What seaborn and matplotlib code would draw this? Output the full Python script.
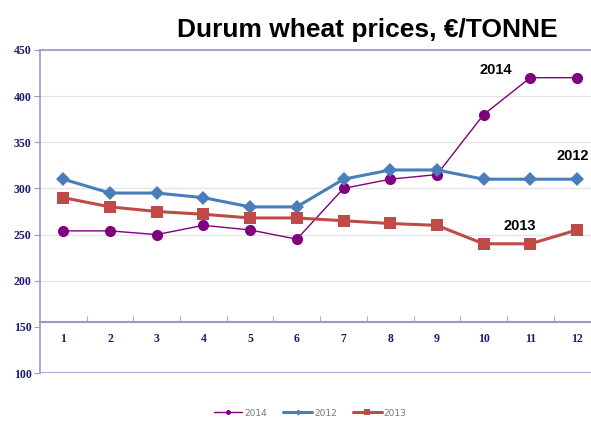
import pandas as pd
import seaborn as sns
import matplotlib.pyplot as plt

# Data
MONTHS = list(range(1, 13))
PRICES_2014 = [254, 254, 250, 260, 255, 245, 300, 310, 315, 380, 420, 420]
PRICES_2012 = [310, 295, 295, 290, 280, 280, 310, 320, 320, 310, 310, 310]
PRICES_2013 = [290, 280, 275, 272, 268, 268, 265, 262, 260, 240, 240, 255]
SERIES = ["2014", "2012", "2013"]

COLORS = {"2014": "#800080", "2012": "#4a7ebb", "2013": "#be4b48"}
MARKERS = {"2014": "o", "2012": "D", "2013": "s"}
SIZES = {"2014": 8, "2012": 7, "2013": 9}
WIDTHS = {"2014": 1.0, "2012": 2.2, "2013": 2.2}
AXIS_COLOR = "#9999cc"
TICK_COLOR = "#1c1c6b"

df = pd.DataFrame({
    "Month": MONTHS * 3,
    "Price": PRICES_2014 + PRICES_2012 + PRICES_2013,
    "Year": sum([[s] * 12 for s in SERIES], []),
})

sns.set_style("white")
fig = plt.figure(figsize=(5.91, 4.21), dpi=100)
ax = fig.add_axes([40 / 591, 48 / 421, 1 - 40 / 591, (373 - 50) / 421])

for year in SERIES:
    sub = df[df["Year"] == year]
    sns.lineplot(
        data=sub, x="Month", y="Price", ax=ax,
        color=COLORS[year], marker=MARKERS[year], markersize=SIZES[year],
        markeredgewidth=0, linewidth=WIDTHS[year], label=year,
    )

ax.set_ylim(100, 450)
ax.set_xlim(0.5, 12.3)
ax.set_yticks(range(100, 451, 50))
ax.set_xticks(MONTHS)
ax.set_xticks([m + 0.5 for m in MONTHS[:-1]], minor=True)
ax.set_xlabel("")
ax.set_ylabel("")

# grid + axis styling
for y in range(200, 451, 50):
    ax.axhline(y, color="#e4e4e4", linewidth=0.9, zorder=0)
ax.axhline(100, color=AXIS_COLOR, linewidth=1.2, zorder=1)
ax.spines["right"].set_visible(False)
ax.spines["top"].set_color(AXIS_COLOR)
ax.spines["top"].set_linewidth(1.2)
ax.spines["left"].set_color(AXIS_COLOR)
ax.spines["left"].set_linewidth(1.2)
ax.spines["bottom"].set_position(("data", 155))
ax.spines["bottom"].set_color(AXIS_COLOR)
ax.spines["bottom"].set_linewidth(1.5)

ax.tick_params(axis="y", length=4, color=AXIS_COLOR, left=True, labelsize=8.5,
               labelcolor=TICK_COLOR, pad=2)
ax.tick_params(axis="x", which="major", length=0, labelsize=8.5,
               labelcolor=TICK_COLOR, pad=8)
ax.tick_params(axis="x", which="minor", length=4, direction="in",
               color=AXIS_COLOR, bottom=True)
for lab in ax.get_xticklabels() + ax.get_yticklabels():
    lab.set_fontfamily("Liberation Serif")
    lab.set_fontweight("bold")

# series labels
label_style = dict(fontsize=10.5, fontweight="bold", va="center",
                   color="black", family="Liberation Sans")
ax.text(10.26, 428, "2014", ha="center", **label_style)
ax.text(12.25, 335, "2012", ha="right", **label_style)
ax.text(10.78, 259, "2013", ha="center", **label_style)

fig.text(367 / 591, 1 - 30 / 421, "Durum wheat prices, \u20ac/TONNE",
         fontsize=19, fontweight="bold", ha="center", va="center",
         color="black", family="Liberation Sans")

leg = ax.legend(loc="center", bbox_to_anchor=(310 / 591, 8 / 421),
                bbox_transform=fig.transFigure, ncol=3, frameon=False,
                fontsize=6.5, handlelength=3.2, columnspacing=1.8,
                handletextpad=0.2, markerscale=0.45)
for t in leg.get_texts():
    t.set_color("#777777")

fig.savefig("out.png", dpi=100)
